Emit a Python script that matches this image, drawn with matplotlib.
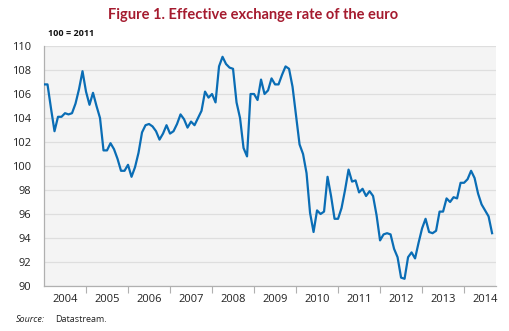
import numpy as np
import matplotlib
matplotlib.use("Agg")
import matplotlib.pyplot as plt
from matplotlib.ticker import FixedLocator, NullFormatter

# Monthly effective exchange rate of the euro, Jan 2004 - Sep 2014 (100 = 2011)
eer_2004 = [106.8, 106.8, 104.8, 102.9, 104.1, 104.1, 104.4, 104.3, 104.4, 105.2, 106.4, 107.9]
eer_2005 = [106.2, 105.1, 106.1, 105.0, 104.0, 101.3, 101.3, 101.9, 101.4, 100.6, 99.6, 99.6]
eer_2006 = [100.1, 99.1, 99.9, 101.1, 102.8, 103.4, 103.5, 103.3, 102.9, 102.2, 102.7, 103.4]
eer_2007 = [102.7, 102.9, 103.5, 104.3, 103.9, 103.2, 103.7, 103.4, 104.0, 104.6, 106.2, 105.7]
eer_2008 = [106.0, 105.3, 108.3, 109.1, 108.5, 108.2, 108.1, 105.3, 104.0, 101.5, 100.8, 106.0]
eer_2009 = [106.0, 105.5, 107.2, 106.0, 106.3, 107.3, 106.8, 106.8, 107.6, 108.3, 108.1, 106.6]
eer_2010 = [104.2, 101.8, 101.0, 99.4, 96.1, 94.5, 96.3, 96.0, 96.2, 99.1, 97.5, 95.6]
eer_2011 = [95.6, 96.5, 98.0, 99.7, 98.7, 98.8, 97.8, 98.1, 97.5, 97.9, 97.5, 95.9]
eer_2012 = [93.8, 94.3, 94.4, 94.3, 93.1, 92.4, 90.7, 90.6, 92.4, 92.8, 92.3, 93.6]
eer_2013 = [94.8, 95.6, 94.5, 94.4, 94.6, 96.2, 96.2, 97.3, 97.0, 97.4, 97.3, 98.6]
eer_2014 = [98.6, 98.9, 99.6, 99.0, 97.7, 96.8, 96.3, 95.8, 94.4]

years = list(range(2004, 2015))
y_ticks = [90, 92, 94, 96, 98, 100, 102, 104, 106, 108, 110]

values = np.array(eer_2004 + eer_2005 + eer_2006 + eer_2007 + eer_2008 + eer_2009
                  + eer_2010 + eer_2011 + eer_2012 + eer_2013 + eer_2014)
dates = 2004 + np.arange(len(values)) / 12.0

plt.rcParams['font.family'] = ['Open Sans', 'DejaVu Sans']

fig = plt.figure(figsize=(5.1, 3.31), dpi=100)
ax = fig.add_axes([44 / 510, 1 - 286 / 331, 452 / 510, 240 / 331])
ax.set_facecolor('#f4f4f4')

ax.plot(dates, values, color='#0a6db5', linewidth=1.6, zorder=3)

ax.set_xlim(2004, 2014.76)
ax.set_ylim(90, 110)

# year boundaries get tick marks, labels sit in the middle of each year
ax.xaxis.set_major_locator(FixedLocator(years[1:]))
ax.xaxis.set_major_formatter(NullFormatter())
ax.set_xticks([y + 0.5 for y in years], minor=True)
ax.set_xticklabels([str(y) for y in years], minor=True)
ax.tick_params(axis='x', which='major', length=5, color='#b0b0b0', width=0.8)
ax.tick_params(axis='x', which='minor', length=0, labelsize=8, colors='#222222', pad=6)

ax.set_yticks(y_ticks)
ax.set_yticklabels([str(v) for v in y_ticks])
ax.tick_params(axis='y', length=0, labelsize=8, colors='#222222', pad=9)

ax.grid(axis='y', color='#dedede', linewidth=0.9, zorder=0)
ax.set_axisbelow(True)

for side in ['top', 'right']:
    ax.spines[side].set_visible(False)
for side in ['left', 'bottom']:
    ax.spines[side].set_color('#b0b0b0')
    ax.spines[side].set_linewidth(0.9)

fig.text(0.497, 1 - 15 / 331, 'Figure 1. Effective exchange rate of the euro',
         ha='center', va='center', fontsize=10.5, fontweight='bold', color='#a51b2f',
         family=['Lato', 'DejaVu Sans'])
fig.text(48 / 510, 1 - 33 / 331, '100 = 2011', ha='left', va='center',
         fontsize=6.5, fontweight='bold', color='#111111')
fig.text(16 / 510, 1 - 319 / 331, 'Source:', ha='left', va='center',
         fontsize=6.5, style='italic', color='#222222')
fig.text(55 / 510, 1 - 319 / 331, 'Datastream.', ha='left', va='center',
         fontsize=6.5, color='#222222')

fig.savefig('out.png', dpi=100)
